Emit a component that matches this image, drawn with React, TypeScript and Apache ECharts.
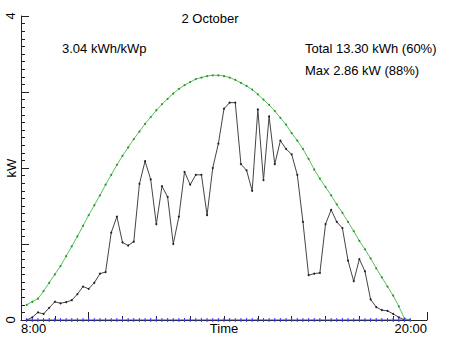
import React, { useEffect, useRef } from "react";
import * as echarts from "echarts";

// Samples every 10 minutes, first sample at 8:10
const START_HOUR = 8;
const STEP_HOURS = 1 / 6;

// Measured PV power (kW)
const measuredPower = [
  0, 0.035, 0.1, 0.08, 0.16, 0.24, 0.22, 0.235, 0.26, 0.34,
  0.44, 0.41, 0.49, 0.61, 0.63, 1.15, 1.36, 1.02, 0.98, 1.03,
  1.79, 2.09, 1.85, 1.26, 1.76, 1.62, 1.0, 1.36, 1.95, 1.78,
  1.91, 1.91, 1.38, 2.0, 2.32, 2.78, 2.86, 2.86, 2.05, 1.97,
  1.7, 2.77, 1.84, 2.68, 2.05, 2.36, 2.25, 2.18, 1.91, 1.29,
  0.59, 0.61, 0.62, 1.26, 1.45, 1.29, 1.21, 0.78, 0.51, 0.8,
  0.64, 0.27, 0.17, 0.13, 0.12, 0.08, 0.035, 0,
];

// Clear-sky expected power (kW)
const clearSkyPower = [
  0.2, 0.24, 0.28, 0.38, 0.49, 0.6, 0.71, 0.84, 0.97, 1.1,
  1.24, 1.38, 1.51, 1.64, 1.78, 1.91, 2.04, 2.16, 2.27, 2.38,
  2.48, 2.58, 2.67, 2.76, 2.84, 2.91, 2.98, 3.04, 3.09, 3.13,
  3.17, 3.19, 3.21, 3.22, 3.22, 3.21, 3.19, 3.16, 3.12, 3.08,
  3.03, 2.97, 2.9, 2.83, 2.75, 2.66, 2.57, 2.46, 2.36, 2.25,
  2.12, 1.98, 1.86, 1.75, 1.64, 1.52, 1.41, 1.29, 1.17, 1.04,
  0.93, 0.81, 0.68, 0.56, 0.44, 0.32, 0.18, 0.02, 0,
];

// Baseline series (kW)
const baselinePower = [
  0, 0, 0, 0, 0, 0, 0, 0, 0, 0,
  0, 0, 0, 0, 0, 0, 0, 0, 0, 0,
  0, 0, 0, 0, 0, 0, 0, 0, 0, 0,
  0, 0, 0, 0, 0, 0, 0, 0, 0, 0,
  0, 0, 0, 0, 0, 0, 0, 0, 0, 0,
  0, 0, 0, 0, 0, 0, 0, 0, 0, 0,
  0, 0, 0, 0, 0, 0, 0, 0, 0,
];

const xLabels: Record<number, string> = { 8: "8:00", 14: "Time", 20: "20:00" };
const yLabels = [0, 4];

const titleText = "2 October";
const yieldText = "3.04 kWh/kWp";
const totalText = "Total 13.30 kWh (60%)";
const maxText = "Max 2.86 kW (88%)";

const FONT = "Liberation Sans, Arial, Helvetica, sans-serif";

function toPairs(values: number[]) {
  return values.map((v, i) => [START_HOUR + (i + 1) * STEP_HOURS, v]);
}

export default function App() {
  const ref = useRef<HTMLDivElement>(null);
  useEffect(() => {
    if (!ref.current) return;
    const chart = echarts.init(ref.current, undefined, { renderer: "svg" });
    const axisColor = "#222";
    const textStyle = { fontFamily: FONT, fontSize: 13, color: "#000" };
    chart.setOption({
      animation: false,
      backgroundColor: "#fff",
      grid: {
        left: 21,
        right: 25,
        top: 16,
        bottom: 19,
        containLabel: false,
        outerBoundsMode: "none",
      },
      xAxis: [
        {
          type: "value",
          min: 8,
          max: 20,
          interval: 1,
          axisLine: { show: true, lineStyle: { color: axisColor, width: 1 } },
          axisTick: { show: true, inside: true, length: 4, lineStyle: { color: axisColor } },
          axisLabel: {
            show: true,
            customValues: [8, 14, 20],
            formatter: (v: number) => xLabels[v] ?? "",
            alignMinLabel: "left",
            alignMaxLabel: "right",
            margin: 2,
            ...textStyle,
          },
          splitLine: { show: false },
        },
        {
          type: "value",
          min: 8,
          max: 20,
          position: "bottom",
          axisLine: { show: false },
          axisTick: {
            show: true,
            inside: true,
            length: 8,
            customValues: [10, 20],
            lineStyle: { color: axisColor },
          },
          axisLabel: { show: false },
          splitLine: { show: false },
        },
      ],
      yAxis: {
        type: "value",
        min: 0,
        max: 4,
        interval: 1,
        name: "kW",
        nameLocation: "middle",
        nameRotate: 90,
        nameGap: 3,
        nameMoveOverlap: false,
        nameTextStyle: textStyle,
        axisLine: { show: true, lineStyle: { color: axisColor, width: 1 } },
        axisTick: { show: true, inside: true, length: 8, lineStyle: { color: axisColor } },
        minorTick: { show: true, splitNumber: 10, length: 4, lineStyle: { color: axisColor } },
        axisLabel: {
          show: true,
          customValues: yLabels,
          rotate: 90,
          margin: 4,
          ...textStyle,
        },
        splitLine: { show: false },
      },
      graphic: [
        {
          type: "text",
          x: 210,
          y: 18,
          style: { text: titleText, font: `13px ${FONT}`, fill: "#000", align: "center", verticalAlign: "middle" },
        },
        {
          type: "text",
          x: 62,
          y: 48,
          style: { text: yieldText, font: `13px ${FONT}`, fill: "#000", align: "left", verticalAlign: "middle" },
        },
        {
          type: "text",
          x: 305,
          y: 48,
          style: { text: totalText, font: `13px ${FONT}`, fill: "#000", align: "left", verticalAlign: "middle" },
        },
        {
          type: "text",
          x: 305,
          y: 70,
          style: { text: maxText, font: `13px ${FONT}`, fill: "#000", align: "left", verticalAlign: "middle" },
        },
      ],
      series: [
        {
          type: "line",
          data: toPairs(clearSkyPower),
          symbol: "circle",
          symbolSize: 2,
          showSymbol: true,
          lineStyle: { color: "#5cc05c", width: 1 },
          itemStyle: { color: "#2a922a" },
          z: 2,
        },
        {
          type: "line",
          data: toPairs(measuredPower),
          symbol: "circle",
          symbolSize: 2,
          showSymbol: true,
          lineStyle: { color: "#444", width: 1 },
          itemStyle: { color: "#222" },
          z: 3,
        },
        {
          type: "line",
          data: toPairs(baselinePower),
          symbol: "rect",
          symbolSize: [1, 4],
          showSymbol: true,
          lineStyle: { color: "#3a3aff", width: 1 },
          itemStyle: { color: "#3a3aff" },
          z: 4,
        },
      ],
    });
    return () => chart.dispose();
  }, []);
  return (
    <div
      ref={ref}
      style={{ position: "absolute", left: 0, top: 0, width: 452, height: 339, background: "#fff" }}
    />
  );
}
